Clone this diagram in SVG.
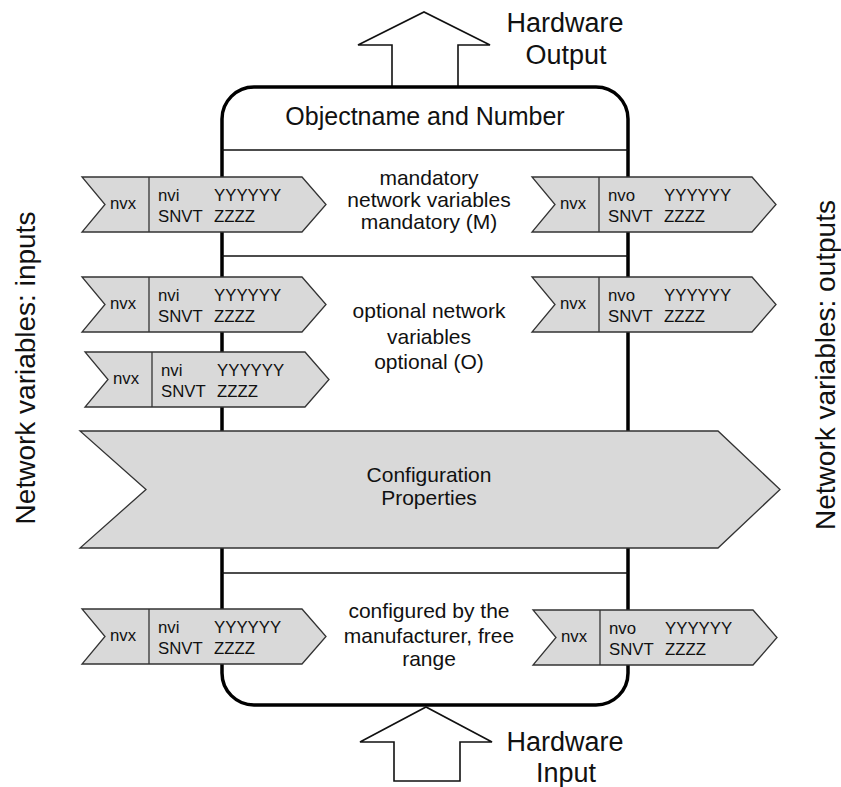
<svg xmlns="http://www.w3.org/2000/svg" width="841" height="787" viewBox="0 0 841 787">
<style>
text{font-family:"Liberation Sans",Arial,sans-serif;fill:#111}
.big{font-size:27px}
.title{font-size:25px}
.mid{font-size:21px;text-anchor:middle}
.sm{font-size:16.8px}
.arr{fill:#d9d9d9;stroke:#333;stroke-width:1.3;stroke-linejoin:miter}
.div{stroke:#333;stroke-width:1.3}
.sep{stroke:#111;stroke-width:1.6}
.hw{fill:#fff;stroke:#111;stroke-width:1.6;stroke-linejoin:miter}
</style>
<defs>
<g id="nv">
<polygon class="arr" points="0,0 220,0 244,27.5 220,55 0,55 23,27.5"/>
<line class="div" x1="67" y1="0" x2="67" y2="55"/>
<text class="sm" x="28" y="32">nvx</text>
</g>
</defs>
<g id="hw-output">
<polygon class="hw" points="392,88 392,45 358,45 424,12 490,45 458,45 458,88"/>
<text class="big" x="565" y="32" text-anchor="middle">Hardware</text>
<text class="big" x="566" y="64" text-anchor="middle">Output</text>
</g>
<g id="object">
<rect x="222" y="87" width="406" height="618" rx="32" ry="32" fill="#fff" stroke="#000" stroke-width="3.5"/>
<text class="title" x="425" y="125" text-anchor="middle">Objectname and Number</text>
<line class="sep" x1="222" y1="150" x2="628" y2="150"/>
<line class="sep" x1="222" y1="256" x2="628" y2="256"/>
<line class="sep" x1="222" y1="573" x2="628" y2="573"/>
</g>
<g id="mandatory-label">
<text class="mid" x="429" y="185">mandatory</text>
<text class="mid" x="429" y="207">network variables</text>
<text class="mid" x="429" y="229">mandatory (M)</text>
</g>
<g id="optional-label">
<text class="mid" x="429" y="318">optional network</text>
<text class="mid" x="429" y="344">variables</text>
<text class="mid" x="429" y="369">optional (O)</text>
</g>
<g id="manufacturer-label">
<text class="mid" x="429" y="618">configured by the</text>
<text class="mid" x="429" y="643">manufacturer, free</text>
<text class="mid" x="429" y="666">range</text>
</g>
<g id="nvi-m">
<use href="#nv" x="82" y="177"/>
<text class="sm" x="158" y="201">nvi</text><text class="sm" x="214" y="201">YYYYYY</text>
<text class="sm" x="158" y="222">SNVT</text><text class="sm" x="214" y="222">ZZZZ</text>
</g>
<g id="nvo-m">
<use href="#nv" x="532" y="177"/>
<text class="sm" x="608" y="201">nvo</text><text class="sm" x="664" y="201">YYYYYY</text>
<text class="sm" x="608" y="222">SNVT</text><text class="sm" x="664" y="222">ZZZZ</text>
</g>
<g id="nvi-o1">
<use href="#nv" x="82" y="277"/>
<text class="sm" x="158" y="301">nvi</text><text class="sm" x="214" y="301">YYYYYY</text>
<text class="sm" x="158" y="322">SNVT</text><text class="sm" x="214" y="322">ZZZZ</text>
</g>
<g id="nvo-o">
<use href="#nv" x="532" y="277"/>
<text class="sm" x="608" y="301">nvo</text><text class="sm" x="664" y="301">YYYYYY</text>
<text class="sm" x="608" y="322">SNVT</text><text class="sm" x="664" y="322">ZZZZ</text>
</g>
<g id="nvi-o2">
<use href="#nv" x="85" y="352"/>
<text class="sm" x="161" y="376">nvi</text><text class="sm" x="217" y="376">YYYYYY</text>
<text class="sm" x="161" y="397">SNVT</text><text class="sm" x="217" y="397">ZZZZ</text>
</g>
<g id="config">
<polygon class="arr" points="80,431 718,431 780,489.5 718,548 80,548 146,489.5"/>
<text class="mid" x="429" y="482">Configuration</text>
<text class="mid" x="429" y="505">Properties</text>
</g>
<g id="nvi-f">
<use href="#nv" x="82" y="609"/>
<text class="sm" x="158" y="633">nvi</text><text class="sm" x="214" y="633">YYYYYY</text>
<text class="sm" x="158" y="654">SNVT</text><text class="sm" x="214" y="654">ZZZZ</text>
</g>
<g id="nvo-f">
<use href="#nv" x="533" y="610"/>
<text class="sm" x="609" y="634">nvo</text><text class="sm" x="665" y="634">YYYYYY</text>
<text class="sm" x="609" y="655">SNVT</text><text class="sm" x="665" y="655">ZZZZ</text>
</g>
<g id="hw-input">
<polygon class="hw" points="394,781 394,742 360,742 426,707 492,742 460,742 460,781"/>
<text class="big" x="565" y="751" text-anchor="middle">Hardware</text>
<text class="big" x="566" y="782" text-anchor="middle">Input</text>
</g>
<g id="side-labels">
<text class="big" transform="translate(35,368) rotate(-90)" text-anchor="middle" style="font-size:28px">Network variables: inputs</text>
<text class="big" transform="translate(835,365) rotate(-90)" text-anchor="middle" style="font-size:28px">Network variables: outputs</text>
</g>
<g id="connectors"></g>
</svg>
